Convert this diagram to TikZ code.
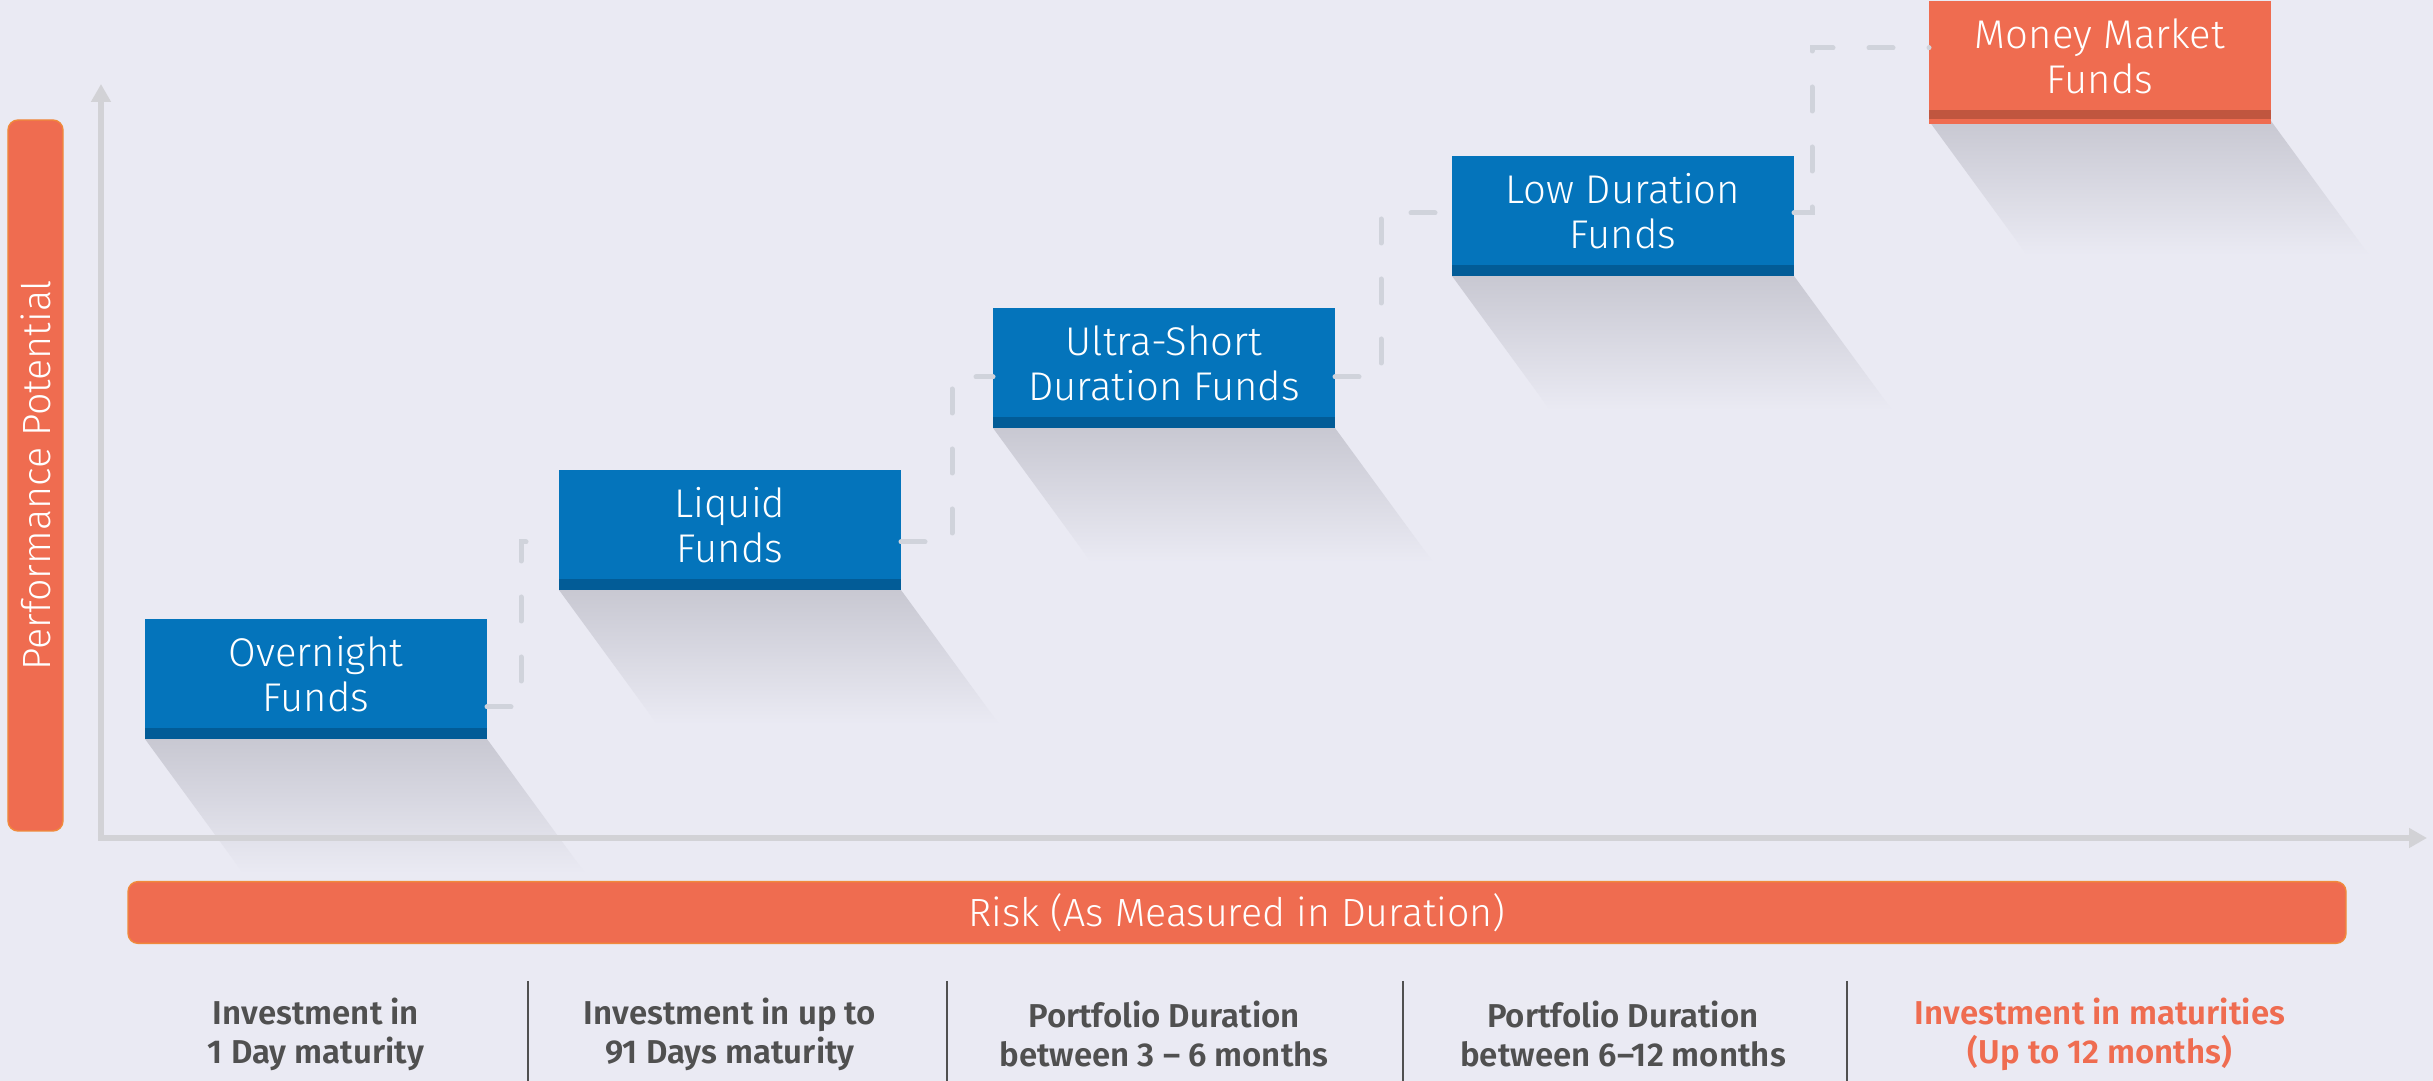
\documentclass[tikz,border=0pt]{standalone}
\usepackage{fontspec}
\setmainfont{Fira Sans}
\IfFontExistsTF{Fira Sans Light}{\newfontfamily\boxfont{Fira Sans Light}}{\newfontfamily\boxfont{Fira Sans}}
\IfFontExistsTF{Fira Sans SemiBold}{\newfontfamily\notefont{Fira Sans SemiBold}}{\newcommand\notefont{\bfseries}}
\usepackage{tikz}
\usetikzlibrary{arrows.meta}
\definecolor{bgcol}{HTML}{EAEAF3}
\definecolor{fundblue}{HTML}{0474BB}
\definecolor{funddark}{HTML}{025C97}
\definecolor{riskorange}{HTML}{EF6C50}
\definecolor{riskdark}{HTML}{C0563F}
\definecolor{riskline}{HTML}{F08A3C}
\definecolor{axisgray}{HTML}{D2D2D6}
\definecolor{linkgray}{HTML}{D0D3DB}
\definecolor{shadegray}{HTML}{C8C8D2}
\definecolor{notegray}{HTML}{505050}
\pgfdeclarelayer{back}
\pgfdeclarelayer{shadows}
\pgfsetlayers{back,shadows,main}
\tikzstyle{fund} = [rectangle, minimum width=3.42cm, minimum height=1.1cm, inner sep=0pt, outer sep=0pt, fill=fundblue, text=white, align=center, font=\boxfont\fontsize{11.4}{12.8}\selectfont]
\tikzstyle{money} = [fund, fill=riskorange]
\tikzstyle{bar} = [rectangle, rounded corners=0.1cm, fill=riskorange, draw=riskline, line width=0.4pt, text=white, font=\boxfont\fontsize{11.2}{12}\selectfont]
\tikzstyle{axis} = [line width=0.6mm, axisgray, -{Triangle[width=1.9mm,length=1.8mm]}]
\tikzstyle{link} = [line width=0.5mm, linkgray, line cap=round, dash pattern=on 2.4mm off 3.6mm]
\tikzstyle{shadow} = [top color=shadegray, bottom color=bgcol]
\tikzstyle{note} = [align=center, text=notegray, font=\notefont\fontsize{9.4}{11.1}\selectfont]
\tikzstyle{sep} = [line width=0.15mm, notegray]

\begin{document}
\begin{tikzpicture}[node distance=4.14cm]
    \useasboundingbox (0,0) rectangle (24.33,-10.81);
    \begin{pgfonlayer}{back}
        \fill [bgcol] (0,0) rectangle (24.33,-10.81);
    \end{pgfonlayer}

    % axes and bars
    \coordinate (origin) at (1.01,-8.38);
    \coordinate (ytop) at (1.01,-0.84);
    \coordinate (xend) at (24.27,-8.38);
    \draw [axis] (origin) -- (ytop);
    \draw [axis] ([xshift=-0.03cm]origin) -- (xend);
    \node (perf) [bar, rotate=90, minimum width=7.11cm, minimum height=0.55cm] at (0.355,-4.755) {Performance Potential};
    \node (risk) [bar, minimum width=22.18cm, minimum height=0.59cm] at (12.37,-9.125) {Risk (As Measured in Duration)};

    % funds
    \node (overnight) [fund] at (3.16,-6.74) {Overnight\\Funds};
    \node (liquid) [fund, right of=overnight, yshift=1.49cm] {Liquid\\Funds};
    \node (ultra) [fund, right of=liquid, xshift=0.2cm, yshift=1.62cm] {Ultra-Short\\Duration Funds};
    \node (low) [fund, right of=ultra, xshift=0.45cm, yshift=1.52cm] {Low Duration\\Funds};
    \node (money) [money, right of=low, xshift=0.63cm, yshift=1.55cm] {Money Market\\Funds};

    % bottom edges
    \foreach \f in {overnight, liquid, ultra, low}
        \fill [funddark] ([yshift=0.01cm]\f.south west) rectangle ([yshift=-0.1cm]\f.south east);
    \fill [riskorange] ([yshift=-0.07cm]money.south west) rectangle ([yshift=-0.13cm]money.south east);
    \fill [riskdark] ([yshift=0.01cm]money.south west) rectangle ([yshift=-0.08cm]money.south east);

    \begin{pgfonlayer}{shadows}
        \foreach \f in {overnight, liquid, ultra, low, money}
            \shade [shadow] ([yshift=-0.1cm]\f.south west) -- ([yshift=-0.1cm]\f.south east) -- ([shift={(0.98,-1.44)}]\f.south east) -- ([shift={(0.98,-1.44)}]\f.south west) -- cycle;
    \end{pgfonlayer}

    \draw [link] ([yshift=-0.33cm]overnight.east) -| ([xshift=-0.38cm,yshift=-0.17cm]liquid.west) -- ([yshift=-0.17cm]liquid.west);
    \draw [link] ([yshift=-0.17cm]liquid.east) -| ([xshift=-0.41cm,yshift=-0.14cm]ultra.west) -- ([yshift=-0.14cm]ultra.west);
    \draw [link] ([yshift=-0.14cm]ultra.east) -| ([xshift=-0.71cm,yshift=-0.02cm]low.west) -- ([yshift=-0.02cm]low.west);
    \draw [link] ([yshift=-0.02cm]low.east) -| ([xshift=-1.17cm,yshift=0.08cm]money.west) -- ([yshift=0.08cm]money.west);

    % maturities
    \coordinate (noterow) at (0,-10.34);
    \node (n1) [note] at (overnight |- noterow) {Investment in\\1 Day maturity};
    \node (n2) [note] at (liquid |- noterow) {Investment in up to\\91 Days maturity};
    \node (n3) [note] at (ultra |- noterow) {Portfolio Duration\\between 3 – 6 months};
    \node (n4) [note] at (low |- noterow) {Portfolio Duration\\between 6–12 months};
    \node (n5) [note, text=riskorange] at (money |- noterow) {Investment in maturities\\(Up to 12 months)};
    \foreach \x in {5.28, 9.47, 14.03, 18.47}
        \draw [sep] (\x,-9.81) -- (\x,-10.81);
\end{tikzpicture}
\end{document}
